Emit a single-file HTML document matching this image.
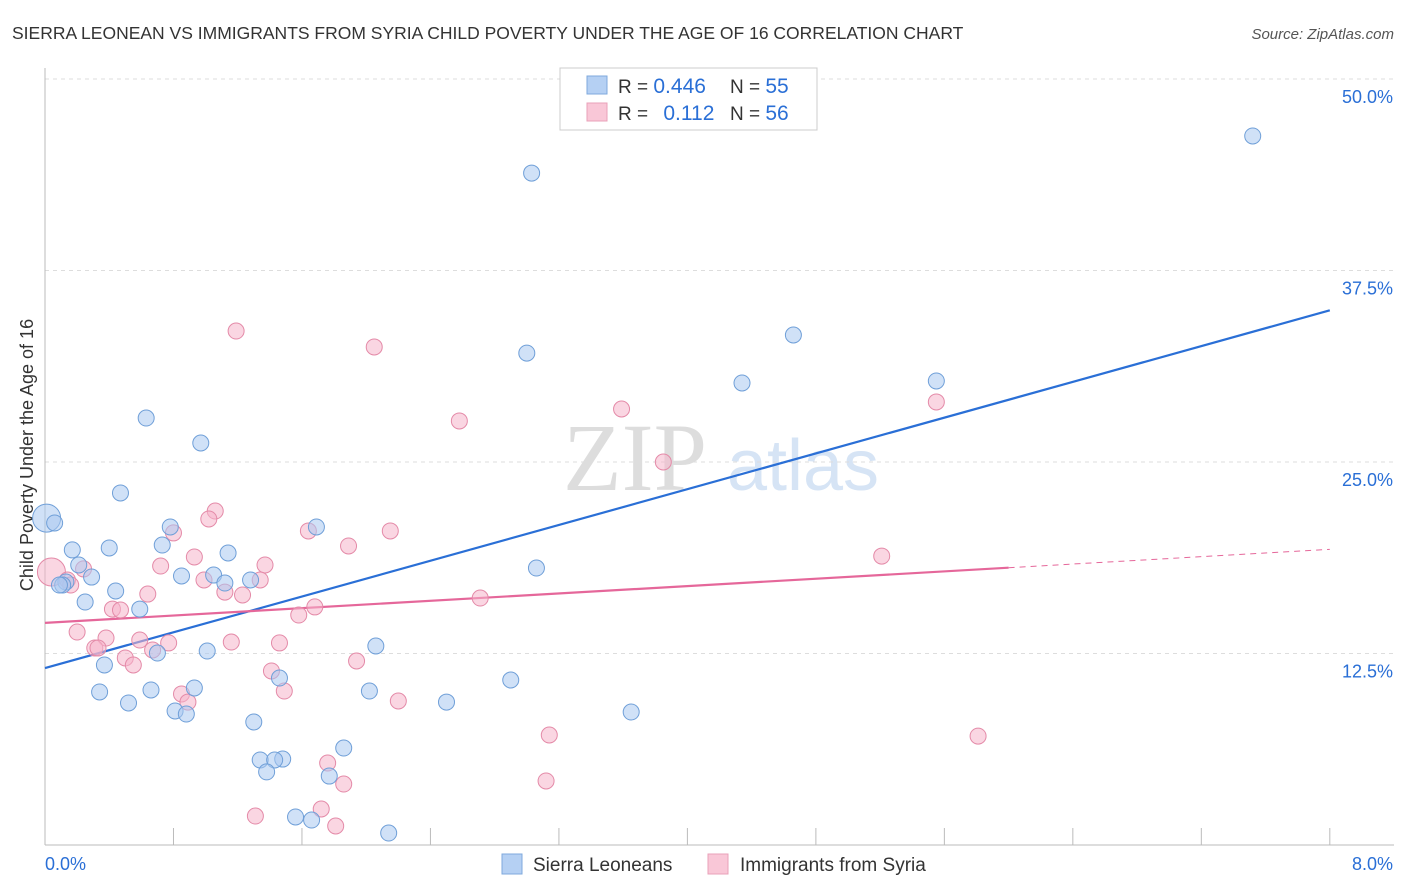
<!DOCTYPE html>
<html><head><meta charset="utf-8">
<style>
body{margin:0;background:#fff;font-family:"Liberation Sans",sans-serif;}
svg{display:block}
</style></head>
<body>
<svg id="chart" width="1406" height="892">
<text x="12" y="39" font-size="17.5" fill="#333">SIERRA LEONEAN VS IMMIGRANTS FROM SYRIA CHILD POVERTY UNDER THE AGE OF 16 CORRELATION CHART</text>
<text x="1394" y="39" font-size="15" fill="#555" font-style="italic" text-anchor="end">Source: ZipAtlas.com</text>
<text x="33" y="455" font-size="18" fill="#333" text-anchor="middle" transform="rotate(-90 33 455)">Child Poverty Under the Age of 16</text>
<g>
<text x="635" y="490" font-size="96" fill="#ddd" font-family="Liberation Serif,serif" text-anchor="middle">ZIP</text>
<text x="803" y="490" font-size="72" fill="#d6e4f5" text-anchor="middle">atlas</text>
</g>
<g id="grid"></g><g id="axes"></g><g id="lines"></g><g id="pts"></g>
<g>
<rect x="560" y="68" width="257" height="62" fill="#fff" stroke="#ccc"/>
<rect x="587" y="76" width="20" height="18" fill="#b5d0f3" stroke="#7fa9dd"/>
<rect x="587" y="103" width="20" height="18" fill="#f9c7d7" stroke="#e9a0b8"/>
<text x="618" y="93" font-size="19" fill="#333">R = <tspan fill="#2a6fd6" font-size="21">0.446</tspan><tspan x="730">N = </tspan><tspan fill="#2a6fd6" font-size="21">55</tspan></text>
<text x="618" y="120" font-size="19" fill="#333">R = <tspan fill="#2a6fd6" font-size="21" dx="10">0.112</tspan><tspan x="730">N = </tspan><tspan fill="#2a6fd6" font-size="21">56</tspan></text>
</g>
<g>
<rect x="502" y="854" width="20" height="20" fill="#b5d0f3" stroke="#7fa9dd"/>
<text x="533" y="871" font-size="19" fill="#333">Sierra Leoneans</text>
<rect x="708" y="854" width="20" height="20" fill="#f9c7d7" stroke="#e9a0b8"/>
<text x="740" y="871" font-size="19" fill="#333">Immigrants from Syria</text>
</g>
</svg>
<script>
const blueX=[7.52,3.03,3.00,4.66,4.34,5.55,0.63,0.97,0.47,0.01,0.06,0.78,1.69,0.17,0.40,0.73,1.14,0.21,0.29,0.85,1.05,1.12,1.28,0.13,0.11,0.44,0.25,0.59,3.06,2.06,0.70,1.01,1.46,2.90,0.37,0.34,0.66,0.93,2.02,0.52,0.81,0.88,2.50,3.65,1.30,1.86,1.34,1.48,1.43,1.38,1.77,1.56,1.66,2.14,0.09];
const blueY=[46.28,43.86,32.11,33.29,30.16,30.29,27.87,26.24,22.98,21.34,21.02,20.76,20.76,19.26,19.39,19.58,19.06,18.28,17.49,17.56,17.62,17.10,17.30,17.17,16.97,16.58,15.86,15.40,18.08,12.99,12.53,12.66,10.90,10.77,11.75,9.99,10.12,10.25,10.05,9.27,8.75,8.55,9.33,8.68,8.03,6.33,5.55,5.61,5.55,4.77,4.50,1.83,1.63,0.78,16.97];
const pinkX=[1.19,2.05,3.59,2.58,3.85,5.55,1.06,1.02,0.80,1.64,2.15,1.89,0.93,0.72,1.37,5.21,0.04,0.24,0.14,0.99,1.34,1.12,1.23,0.64,2.71,1.68,1.58,0.42,0.47,0.20,0.38,0.59,0.77,1.16,1.46,0.31,0.33,0.50,0.55,0.67,1.94,1.41,0.85,1.49,0.89,2.20,3.14,5.81,1.76,1.86,3.12,1.72,1.31,1.81,0.16];
const pinkY=[33.55,32.51,28.46,27.68,25.00,28.92,21.80,21.28,20.37,20.50,20.50,19.52,18.80,18.21,18.28,18.86,17.82,18.02,17.30,17.30,17.30,16.51,16.32,16.38,16.12,15.54,15.01,15.40,15.34,13.90,13.51,13.38,13.19,13.25,13.19,12.86,12.86,12.21,11.75,12.73,12.01,11.36,9.86,10.05,9.33,9.40,7.18,7.11,5.35,3.98,4.18,2.35,1.89,1.24,16.97];
const bigBlue=[9], bigPink=[16];
const yTicks=[12.5,25.0,37.5,50.0];
const xTickLabels=["0.0%","8.0%"];
const blueTrend=[11.55,34.9];
const pinkTrend=[14.5,19.3];
const NS="http://www.w3.org/2000/svg";
const sx=v=>45+v*160.6, sy=v=>845-v*15.32;
function mk(tag,attrs,parent){const e=document.createElementNS(NS,tag);for(const k in attrs)e.setAttribute(k,attrs[k]);document.getElementById(parent).appendChild(e);return e;}
yTicks.forEach(t=>{
 const l=mk('line',{x1:45,x2:1394,y1:sy(t),y2:sy(t),stroke:'#ddd','stroke-dasharray':'4,4'},'grid');
 
 
 const tx=mk('text',{x:1393,y:sy(t)+24,'font-size':18,fill:'#2a6fd6','text-anchor':'end'},'grid');
 tx.textContent=t.toFixed(1)+'%';
 
 
});
mk('line',{x1:45,x2:45,y1:68,y2:845,stroke:'#bbb'},'axes');
mk('line',{x1:45,x2:1394,y1:845,y2:845,stroke:'#bbb'},'axes');
for(let i=0;i<=10;i++){mk('line',{x1:sx(i*0.8),x2:sx(i*0.8),y1:828,y2:845,stroke:'#bbb'},'axes');}
[[0,45,'start'],[8,1393,'end']].forEach((p,i)=>{
 const t=mk('text',{x:p[1],y:870,'font-size':18,fill:'#2a6fd6','text-anchor':p[2]},'axes');
 t.textContent=xTickLabels[i];
 
 
});
function drawPts(X,Y,big,fill,stroke,name){
 X.forEach((x,i)=>{
  const c=mk('circle',{cx:sx(x),cy:sy(Y[i]),r:big.includes(i)?14:8,fill:fill,'fill-opacity':0.55,stroke:stroke,'stroke-width':1},'pts');
  
  
 });
}
drawPts(pinkX,pinkY,bigPink,'#f6b4ca','#e48aa8','syria-point');
drawPts(blueX,blueY,bigBlue,'#a9c8f0','#6f9fd8','sierra-point');
const bl=mk('line',{x1:sx(0),y1:sy(blueTrend[0]),x2:sx(8),y2:sy(blueTrend[1]),stroke:'#2a6fd6','stroke-width':2.2},'lines');


const pAt=x=>pinkTrend[0]+(pinkTrend[1]-pinkTrend[0])*x/8;
const pl=mk('line',{x1:sx(0),y1:sy(pAt(0)),x2:sx(6),y2:sy(pAt(6)),stroke:'#e5679a','stroke-width':2.2},'lines');


const pd=mk('line',{x1:sx(6),y1:sy(pAt(6)),x2:sx(8),y2:sy(pAt(8)),stroke:'#e5679a','stroke-width':1,'stroke-dasharray':'6,5'},'lines');


</script>
</body></html>
